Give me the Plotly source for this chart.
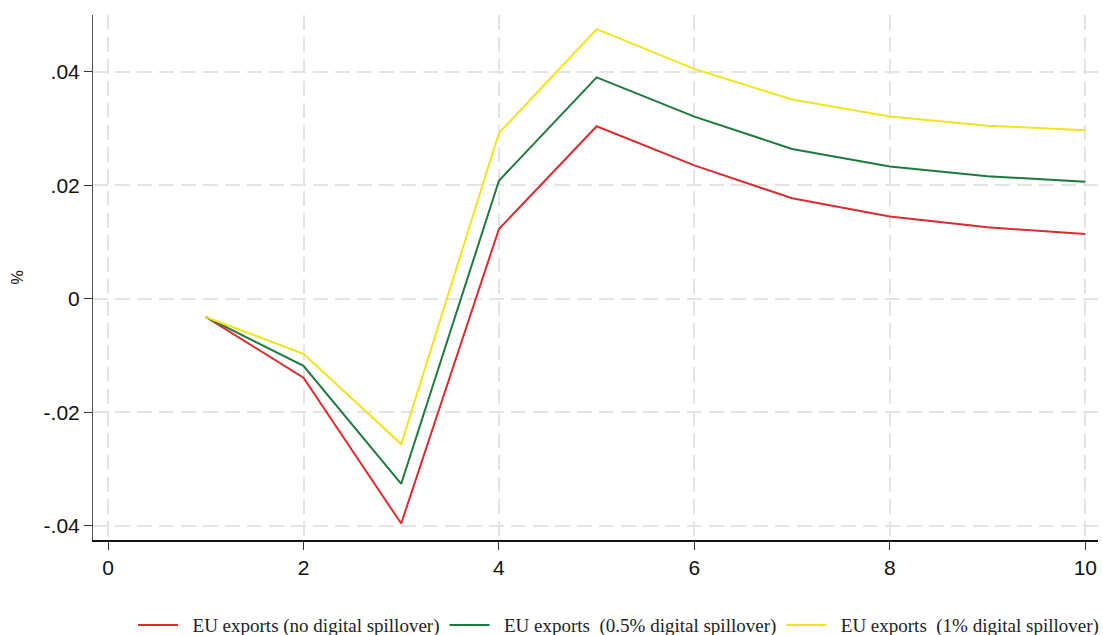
import plotly.graph_objects as go

periods = [1, 2, 3, 4, 5, 6, 7, 8, 9, 10]
no_spill = [-0.0032, -0.0139, -0.0396, 0.0123, 0.0304, 0.0235, 0.0177, 0.0145, 0.0126, 0.0114]
half_spill = [-0.0032, -0.0118, -0.0326, 0.0208, 0.0390, 0.0321, 0.0264, 0.0233, 0.0216, 0.0206]
one_spill = [-0.0032, -0.0097, -0.0256, 0.0292, 0.0475, 0.0405, 0.0351, 0.0321, 0.0305, 0.0297]

names = ["EU exports (no digital spillover)",
         "EU exports \u00a0(0.5% digital spillover)",
         "EU exports \u00a0(1% digital spillover)"]
colors = ["#dc2b2f", "#1d7a3f", "#f1e41c"]

x_ticks = [0, 2, 4, 6, 8, 10]
y_ticks = [-0.04, -0.02, 0, 0.02, 0.04]
y_ticktext = ["-.04", "-.02", "0", ".02", ".04"]

fig = go.Figure()
for series, name, color in zip([no_spill, half_spill, one_spill], names, colors):
    fig.add_trace(go.Scatter(x=periods, y=series, mode="lines",
                             name="\u00a0\u00a0" + name,
                             line=dict(color=color, width=2)))

fig.update_layout(
    width=1103, height=635,
    margin=dict(l=93, r=5, t=15, b=95, autoexpand=False),
    plot_bgcolor="white", paper_bgcolor="white",
    showlegend=True,
    legend=dict(orientation="h", x=1.006, xanchor="right", y=-0.162, yanchor="middle",
                font=dict(family="Liberation Serif", size=19, color="#222"),
                itemwidth=40, tracegroupgap=0),
    font=dict(family="Liberation Sans, Arial", size=21, color="#111"),
    annotations=[dict(text="%", xref="paper", yref="paper", x=-0.0756, y=0.5,
                      xanchor="center", yanchor="middle", textangle=-90,
                      showarrow=False, font=dict(size=16, color="#111"))],
)
fig.update_xaxes(range=[-0.154, 10.13], tickvals=x_ticks, automargin=False,
                 showline=True, linecolor="#111", linewidth=2,
                 ticks="outside", ticklen=8, tickcolor="#333", tickwidth=1,
                 showgrid=True, gridcolor="#e4e4e4", gridwidth=1.5, griddash="15px,7px",
                 zeroline=False, tickfont=dict(size=21))
fig.update_yaxes(range=[-0.0425, 0.0500], tickvals=y_ticks, ticktext=y_ticktext,
                 automargin=False,
                 showline=True, linecolor="#555", linewidth=1,
                 ticks="outside", ticklen=8, tickcolor="#333", tickwidth=1,
                 showgrid=True, gridcolor="#e4e4e4", gridwidth=1.5, griddash="15px,7px",
                 zeroline=False, tickfont=dict(size=21))

fig.write_html("out.html")
